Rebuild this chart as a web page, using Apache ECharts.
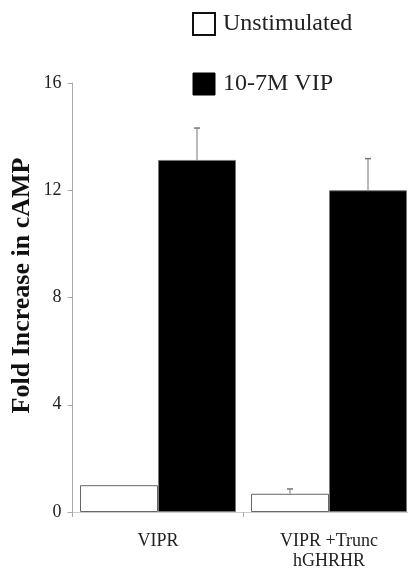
<!DOCTYPE html>
<html>
<head>
<meta charset="utf-8">
<script src="https://cdn.jsdelivr.net/npm/echarts@6/dist/echarts.min.js"></script>
<style>html,body{margin:0;padding:0;background:#fff;}#c{width:408px;height:571px;}</style>
</head>
<body>
<div id="c"></div>
<script>
var categories = ['VIPR', 'VIPR +Trunc\nhGHRHR'];
var seriesNames = ['Unstimulated', '10-7M VIP'];
var unstimulated = [1.0, 0.68];
var unstimulatedErr = [0, 0.18];
var vip = [13.13, 12.0];
var vipErr = [1.19, 1.18];
var yTicks = [0, 4, 8, 12, 16];

var FONT = '"Liberation Serif", "Times New Roman", serif';
var GAP = 15 / 171;

var chart = echarts.init(document.getElementById('c'), null, {renderer: 'canvas'});

function errRenderer(values, errs, side) {
  return function (params, api) {
    var i = api.value(0);
    var v = values[i], e = errs[i];
    if (!e) return null;
    var bw = api.size([1, 0])[0];
    var barW = bw * (1 - GAP) / 2;
    var c = api.coord([i, v]);
    var top = api.coord([i, v + e]);
    var x = c[0] + side * barW / 2;
    return {
      type: 'group',
      children: [
        {type: 'line', shape: {x1: x, y1: c[1], x2: x, y2: top[1]}, style: {stroke: '#777', lineWidth: 1}},
        {type: 'line', shape: {x1: x - 3, y1: top[1], x2: x + 3, y2: top[1]}, style: {stroke: '#777', lineWidth: 1.5}}
      ]
    };
  };
}

var option = {
  animation: false,
  backgroundColor: '#fff',
  grid: {left: 72.5, right: -6.5, top: 83, bottom: 59, containLabel: false, outerBoundsMode: 'none'},
  legend: {
    orient: 'vertical',
    left: 187,
    top: 7,
    itemWidth: 22,
    itemHeight: 22,
    itemGap: 36,
    selectedMode: false,
    textStyle: {fontFamily: FONT, fontSize: 24, color: '#222', padding: [0, 0, 0, 3]},
    data: [
      {name: seriesNames[0], icon: 'rect', itemStyle: {color: '#fff', borderColor: '#111', borderWidth: 2}},
      {name: seriesNames[1], icon: 'rect', itemStyle: {color: '#000', borderColor: '#000', borderWidth: 1}}
    ]
  },
  xAxis: {
    type: 'category',
    data: categories,
    axisLine: {show: true, lineStyle: {color: '#ccc', width: 1}},
    axisTick: {show: true, length: 5, lineStyle: {color: '#aaa'}},
    axisLabel: {fontFamily: FONT, fontSize: 18, color: '#222', lineHeight: 20, margin: 19}
  },
  yAxis: {
    type: 'value',
    min: 0,
    max: 16,
    interval: 4,
    name: 'Fold Increase in cAMP',
    nameLocation: 'middle',
    nameGap: 37,
    nameMoveOverlap: false,
    nameTextStyle: {fontFamily: FONT, fontSize: 26, fontWeight: 'bold', color: '#111', padding: [0, 0, 0, 24]},
    axisLine: {show: true, lineStyle: {color: '#aaa', width: 1}},
    axisTick: {show: true, length: 5, lineStyle: {color: '#aaa'}},
    axisLabel: {fontFamily: FONT, fontSize: 18, color: '#222', margin: 11,
      formatter: function (v) { return yTicks.indexOf(v) >= 0 ? String(v) : ''; }},
    splitLine: {show: false}
  },
  series: [
    {
      name: seriesNames[0], type: 'bar', data: unstimulated,
      barGap: '0%', barCategoryGap: (GAP * 100) + '%',
      itemStyle: {color: '#fff', borderColor: '#666', borderWidth: 1}
    },
    {
      name: seriesNames[1], type: 'bar', data: vip,
      barGap: '0%', barCategoryGap: (GAP * 100) + '%',
      itemStyle: {color: '#000', borderColor: '#777', borderWidth: 1}
    },
    {
      type: 'custom', name: 'errU', data: [[0], [1]], encode: {x: 0},
      renderItem: errRenderer(unstimulated, unstimulatedErr, -1), z: 3, silent: true
    },
    {
      type: 'custom', name: 'errV', data: [[0], [1]], encode: {x: 0},
      renderItem: errRenderer(vip, vipErr, 1), z: 3, silent: true
    }
  ]
};
chart.setOption(option);
</script>
</body>
</html>
